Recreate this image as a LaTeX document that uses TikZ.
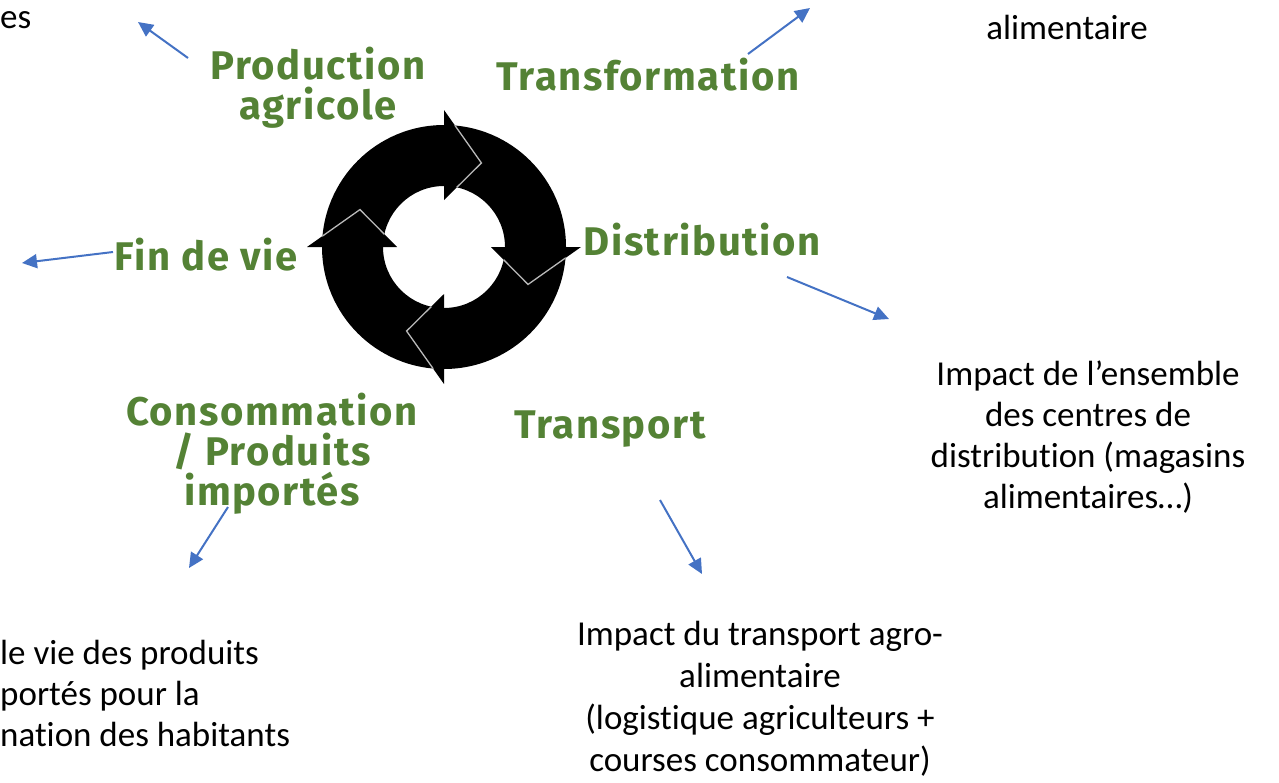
\documentclass[tikz,border=0pt]{standalone}
\usepackage{fontspec}
\setmainfont{Carlito}[Ligatures=NoCommon]
\newfontfamily\stagefont{Fira Sans}[LetterSpace=4]
\usetikzlibrary{arrows.meta}
\definecolor{stagegreen}{HTML}{548235}
\definecolor{linkblue}{HTML}{4472C4}

\begin{document}
\begin{tikzpicture}[x=1pt, y=-1pt,
    stage/.style={font=\stagefont\bfseries\fontsize{40}{40}\selectfont, text=stagegreen, align=center, inner sep=0pt},
    impact/.style={font=\fontsize{35}{41}\selectfont, align=center, inner sep=0pt},
    link/.style={linkblue, line width=2pt, -{Triangle[length=15pt, width=14pt]}},
    seam/.style={gray!55, line width=1.3pt}]
        \useasboundingbox (0,0) rectangle (1279,782);
        \clip (0,0) rectangle (1279,782);

        % Cycle
        \coordinate (c) at (444,247);
        \begin{scope}[shift={(c)}]
            \fill[black, even odd rule] (0,0) circle (122) (0,0) circle (61);
            \foreach \b in {-90,0,90,180}
                \fill[black] (\b:47) -- (\b+24:92) -- (\b:137) -- cycle;
            \begin{scope}[even odd rule]
                \clip (0,0) circle (122) (0,0) circle (61);
                \foreach \b in {-90,0,90,180}
                    \draw[seam] (\b:137) -- (\b+24:92) -- (\b:47);
            \end{scope}
        \end{scope}

        % Stages
        \node[stage] (prod) at (318,88) {Production\\agricole};
        \node[stage] (transf) at (648,75) {Transformation};
        \node[stage] (distr) at (702,240) {Distribution};
        \node[stage] (transp) at (610,429) {Transport};
        \node[stage] (conso) at (272,454) {Consommation\\/ Produits\\importés};
        \node[stage] (fin) at (206,255) {Fin de vie};

        % Impacts
        \node[impact, anchor=west] (prodimp) at (0,20) {es};
        \node[impact] (transfimp) at (1067,27) {alimentaire};
        \node[impact] (distrimp) at (1088,437) {Impact de l’ensemble\\des centres de\\distribution (magasins\\alimentaires…)};
        \node[impact, font=\fontsize{35}{42}\selectfont] (transpimp) at (760,699) {Impact du transport agro-\\alimentaire\\(logistique agriculteurs +\\courses consommateur)};
        \node[impact, anchor=west, align=left] (consoimp) at (0,693) {le vie des produits\\portés pour la\\nation des habitants};

        % Links
        \coordinate (prod-a) at (188,58);   \coordinate (prod-b) at (138,22);
        \coordinate (transf-a) at (748,54); \coordinate (transf-b) at (810,8);
        \coordinate (distr-a) at (787,277); \coordinate (distr-b) at (889,319);
        \coordinate (transp-a) at (660,500); \coordinate (transp-b) at (702,574);
        \coordinate (conso-a) at (228,507); \coordinate (conso-b) at (189,568);
        \coordinate (fin-a) at (113,252);   \coordinate (fin-b) at (22,263);
        \draw[link] (prod-a) -- (prod-b);
        \draw[link] (transf-a) -- (transf-b);
        \draw[link] (distr-a) -- (distr-b);
        \draw[link] (transp-a) -- (transp-b);
        \draw[link] (conso-a) -- (conso-b);
        \draw[link] (fin-a) -- (fin-b);
    \end{tikzpicture}
\end{document}
